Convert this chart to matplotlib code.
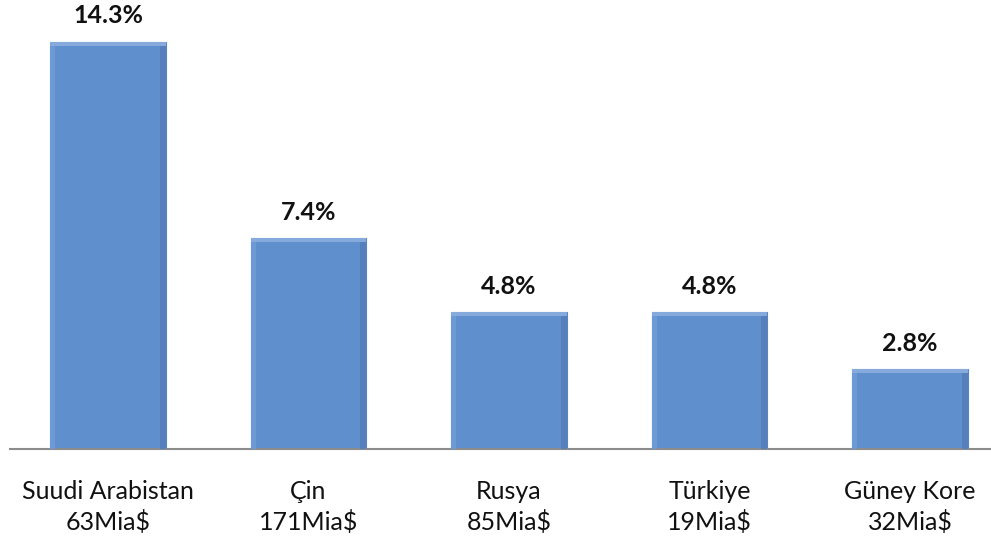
import matplotlib
matplotlib.use("Agg")
import matplotlib.pyplot as plt

countries = ["Suudi Arabistan", "Çin", "Rusya", "Türkiye", "Güney Kore"]
amounts = ["63Mia$", "171Mia$", "85Mia$", "19Mia$", "32Mia$"]
shares = [14.3, 7.4, 4.8, 4.8, 2.8]
share_labels = ["14.3%", "7.4%", "4.8%", "4.8%", "2.8%"]

plt.rcParams['font.family'] = ['Lato', 'DejaVu Sans']

fig = plt.figure(figsize=(9.91, 5.41), dpi=100)
ax = fig.add_axes([10/991, (541-449)/541, 981/991, 449/541])

x = list(range(len(countries)))
w = 0.574
ax.bar(x, shares, width=w, color="#5F8FCD", edgecolor="#5A86C0", linewidth=0.8, zorder=2)
# subtle bevel: light top strip, slightly darker right edge
for xi, v in zip(x, shares):
    ax.bar(xi, 0.12, bottom=v - 0.12, width=w, color="#86AADB", linewidth=0, zorder=3)
    ax.bar(xi + w/2 - 0.015, v - 0.12, width=0.03, color="#5580BB", linewidth=0, zorder=3)
    ax.bar(xi - w/2 + 0.012, v - 0.12, width=0.024, color="#6C9AD4", linewidth=0, zorder=3)

for xi, v, lab in zip(x, shares, share_labels):
    ax.annotate(lab, (xi, v), xytext=(0, 13.5), textcoords="offset points",
                ha="center", va="baseline", fontsize=18, fontweight="bold", color="#111111")

for xi, c, a in zip(x, countries, amounts):
    ax.annotate(c, (xi, 0), xycoords=("data", "axes fraction"), xytext=(0, -36),
                textcoords="offset points", ha="center", va="baseline", fontsize=18, color="#111111")
    ax.annotate(a, (xi, 0), xycoords=("data", "axes fraction"), xytext=(0, -58),
                textcoords="offset points", ha="center", va="baseline", fontsize=18, color="#111111")

ax.set_xlim(-0.489, 4.404)
ax.set_ylim(0, 15.78)
for s in ["top", "right", "left"]:
    ax.spines[s].set_visible(False)
ax.spines["bottom"].set_color("#8C8C8C")
ax.spines["bottom"].set_linewidth(1.5)
ax.set_yticks([])
ax.set_xticks([])

fig.savefig("out.png", dpi=100)
